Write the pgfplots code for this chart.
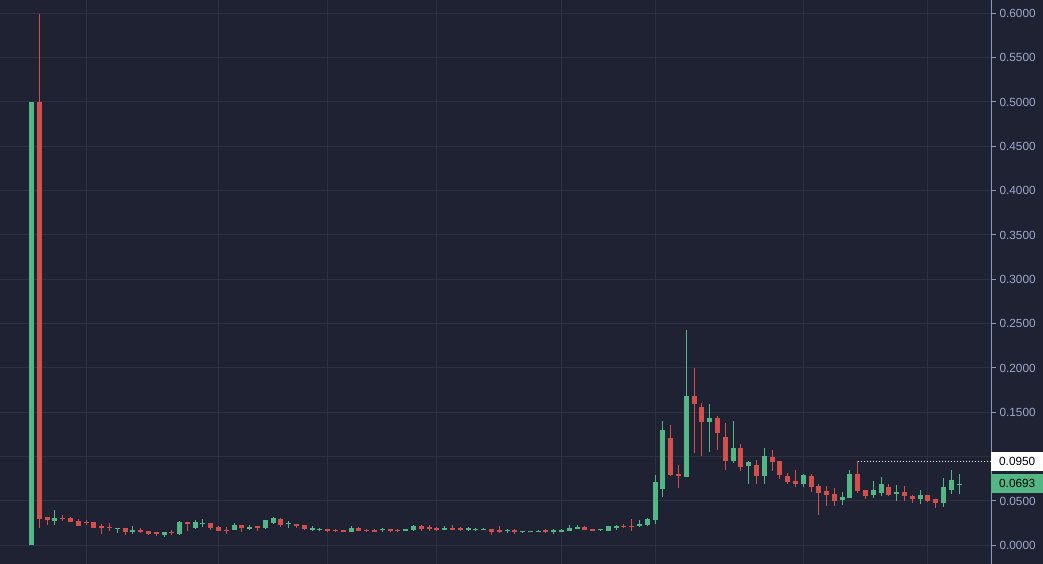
\documentclass[border=0pt]{standalone}
\usepackage{fontspec}
\setmainfont{Liberation Sans}
\usepackage{pgfplots}
\usepackage{pgfplotstable}
\pgfplotsset{compat=1.18}

\definecolor{bgc}{HTML}{1E2233}
\definecolor{gridc}{HTML}{2B3043}
\definecolor{axc}{HTML}{8F98BB}
\definecolor{txtc}{HTML}{A0A8CB}
\definecolor{upc}{HTML}{52B784}
\definecolor{dnc}{HTML}{D24F4B}

% rising candles: index open high low close
\pgfplotstableread{
i o h l c
0 0.0001 0.5000 0.0001 0.5000
3 0.0274 0.0398 0.0229 0.0308
11 0.0184 0.0195 0.0139 0.0195
13 0.0153 0.0218 0.0131 0.0176
17 0.0116 0.0150 0.0097 0.0150
19 0.0127 0.0274 0.0116 0.0263
21 0.0198 0.0285 0.0187 0.0263
22 0.0244 0.0297 0.0210 0.0255
26 0.0173 0.0251 0.0173 0.0229
28 0.0184 0.0229 0.0173 0.0210
30 0.0198 0.0285 0.0187 0.0285
31 0.0251 0.0319 0.0240 0.0308
33 0.0237 0.0274 0.0198 0.0251
36 0.0173 0.0218 0.0161 0.0195
37 0.0173 0.0198 0.0161 0.0187
41 0.0150 0.0218 0.0150 0.0195
45 0.0169 0.0198 0.0147 0.0180
48 0.0161 0.0184 0.0161 0.0184
49 0.0173 0.0229 0.0161 0.0218
53 0.0173 0.0218 0.0173 0.0195
56 0.0173 0.0210 0.0161 0.0195
57 0.0173 0.0198 0.0161 0.0187
58 0.0176 0.0198 0.0176 0.0187
61 0.0158 0.0187 0.0139 0.0173
63 0.0150 0.0161 0.0139 0.0161
64 0.0150 0.0161 0.0150 0.0161
65 0.0150 0.0173 0.0150 0.0165
67 0.0153 0.0187 0.0127 0.0169
68 0.0150 0.0187 0.0150 0.0173
69 0.0161 0.0229 0.0161 0.0195
70 0.0184 0.0229 0.0184 0.0206
73 0.0173 0.0184 0.0161 0.0184
74 0.0161 0.0218 0.0161 0.0218
75 0.0195 0.0229 0.0173 0.0218
78 0.0221 0.0285 0.0210 0.0244
79 0.0229 0.0308 0.0218 0.0297
80 0.0285 0.0793 0.0244 0.0714
81 0.0635 0.1402 0.0545 0.1300
84 0.0770 0.2428 0.0770 0.1684
87 0.1391 0.1594 0.1052 0.1436
90 0.0951 0.1402 0.0928 0.1097
92 0.0894 0.0951 0.0691 0.0939
94 0.0782 0.1097 0.0691 0.1007
99 0.0691 0.0804 0.0657 0.0793
104 0.0511 0.0601 0.0454 0.0545
105 0.0533 0.0849 0.0533 0.0804
108 0.0567 0.0725 0.0533 0.0624
109 0.0590 0.0770 0.0556 0.0691
111 0.0579 0.0680 0.0500 0.0601
114 0.0522 0.0624 0.0466 0.0567
117 0.0477 0.0759 0.0432 0.0657
118 0.0624 0.0849 0.0579 0.0736
119 0.0687 0.0804 0.0579 0.0693
}\up

% falling candles
\pgfplotstableread{
i o h l c
1 0.5000 0.5990 0.0195 0.0297
2 0.0319 0.0319 0.0229 0.0285
4 0.0311 0.0342 0.0277 0.0297
5 0.0308 0.0319 0.0263 0.0263
6 0.0274 0.0297 0.0221 0.0221
7 0.0266 0.0289 0.0229 0.0251
8 0.0263 0.0263 0.0198 0.0198
9 0.0218 0.0240 0.0127 0.0198
10 0.0210 0.0251 0.0161 0.0195
12 0.0195 0.0195 0.0116 0.0153
14 0.0173 0.0195 0.0139 0.0153
15 0.0161 0.0161 0.0120 0.0131
16 0.0150 0.0150 0.0108 0.0131
18 0.0153 0.0173 0.0120 0.0135
20 0.0263 0.0263 0.0165 0.0244
23 0.0251 0.0251 0.0176 0.0198
24 0.0206 0.0218 0.0161 0.0161
25 0.0173 0.0206 0.0127 0.0161
27 0.0229 0.0229 0.0150 0.0198
29 0.0218 0.0218 0.0161 0.0195
32 0.0297 0.0308 0.0210 0.0229
34 0.0240 0.0240 0.0195 0.0218
35 0.0229 0.0229 0.0176 0.0187
38 0.0184 0.0184 0.0150 0.0161
39 0.0173 0.0184 0.0150 0.0161
40 0.0173 0.0173 0.0150 0.0150
42 0.0195 0.0206 0.0161 0.0161
43 0.0173 0.0184 0.0150 0.0158
44 0.0173 0.0184 0.0150 0.0150
46 0.0184 0.0184 0.0150 0.0161
47 0.0176 0.0187 0.0150 0.0161
50 0.0218 0.0229 0.0161 0.0184
51 0.0210 0.0229 0.0161 0.0184
52 0.0198 0.0210 0.0161 0.0173
54 0.0195 0.0229 0.0173 0.0173
55 0.0195 0.0206 0.0161 0.0173
59 0.0184 0.0184 0.0116 0.0150
60 0.0173 0.0218 0.0139 0.0150
62 0.0169 0.0184 0.0127 0.0153
66 0.0169 0.0180 0.0139 0.0150
71 0.0206 0.0218 0.0173 0.0173
72 0.0184 0.0184 0.0161 0.0161
76 0.0218 0.0240 0.0195 0.0206
77 0.0221 0.0297 0.0161 0.0210
82 0.1210 0.1357 0.0782 0.0793
83 0.0804 0.0906 0.0646 0.0782
85 0.1684 0.2000 0.1041 0.1594
86 0.1560 0.1605 0.1007 0.1391
88 0.1436 0.1458 0.1075 0.1266
89 0.1221 0.1379 0.0849 0.0951
91 0.1097 0.1142 0.0838 0.0883
93 0.0906 0.0962 0.0691 0.0782
95 0.0996 0.1075 0.0838 0.0939
96 0.0951 0.0951 0.0748 0.0793
97 0.0782 0.0815 0.0691 0.0714
98 0.0725 0.0849 0.0657 0.0691
100 0.0782 0.0804 0.0601 0.0657
101 0.0669 0.0691 0.0342 0.0590
102 0.0612 0.0669 0.0443 0.0567
103 0.0579 0.0646 0.0443 0.0500
106 0.0804 0.0950 0.0590 0.0612
107 0.0624 0.0624 0.0522 0.0556
110 0.0657 0.0691 0.0556 0.0567
112 0.0601 0.0669 0.0500 0.0556
113 0.0556 0.0567 0.0477 0.0522
115 0.0567 0.0567 0.0488 0.0500
116 0.0522 0.0522 0.0421 0.0477
}\down

\newcommand{\lblfont}{\fontsize{11.8}{14}\selectfont}

\begin{document}
\begin{tikzpicture}[x=1pt,y=1pt]
\useasboundingbox (0,0) rectangle (1043,564);
\fill[bgc] (0,0) rectangle (1043,564);
\begin{axis}[
  at={(0,0)}, anchor=south west,
  scale only axis, width=991pt, height=564pt,
  xmin=-4.04, xmax=123.09,
  ymin=-0.0211, ymax=0.6150,
  axis y line*=right,
  axis x line*=bottom,
  x axis line style={draw=none},
  xtick={7,24,38,52,68,80,99,115},
  xticklabels={},
  xtick style={draw=none},
  ytick={0,0.05,0.15,0.2,0.25,0.3,0.35,0.4,0.45,0.5,0.55,0.6},
  extra y ticks={0.1},
  extra y tick labels={},
  extra y tick style={grid=major},
  scaled y ticks=false,
  grid=major,
  grid style={line width=1pt, draw=gridc},
  y axis line style={line width=1pt, draw=axc},
  ytick style={line width=1pt, draw=axc},
  tick align=outside,
  major tick length=5pt,
  yticklabel style={font=\lblfont, color=txtc,
    /pgf/number format/fixed,
    /pgf/number format/fixed zerofill,
    /pgf/number format/precision=4,
    /pgf/number format/assume math mode=true},
  candle/.style={draw=none, mark=none, forget plot,
    error bars/y dir=plus, error bars/y explicit, error bars/error mark=none},
]
% wicks
\addplot[candle, error bars/error bar style={line width=1pt, draw=upc}]
  table[x=i, y=l, y error plus expr=\thisrow{h}-\thisrow{l}] {\up};
\addplot[candle, error bars/error bar style={line width=1pt, draw=dnc}]
  table[x=i, y=l, y error plus expr=\thisrow{h}-\thisrow{l}] {\down};
% bodies
\addplot[candle, error bars/error bar style={line width=5pt, draw=upc}]
  table[x=i, y=o, y error plus expr=\thisrow{c}-\thisrow{o}] {\up};
\addplot[candle, error bars/error bar style={line width=5pt, draw=dnc}]
  table[x=i, y=c, y error plus expr=\thisrow{o}-\thisrow{c}] {\down};
% high marker line
\addplot[white, dotted, line width=1pt, forget plot] coordinates {(106,0.095) (123.09,0.095)};
\coordinate (phi) at (axis cs:123.09,0.095);
\coordinate (plast) at (axis cs:123.09,0.0693);
\end{axis}
\node[fill=white, text=black, font=\lblfont, minimum width=52pt, minimum height=19pt,
  inner sep=0pt, anchor=west] at (phi) {0.0950};
\node[fill=upc, text=black, font=\lblfont, minimum width=52pt, minimum height=19pt,
  inner sep=0pt, anchor=west] at (plast) {0.0693};
\end{tikzpicture}
\end{document}
